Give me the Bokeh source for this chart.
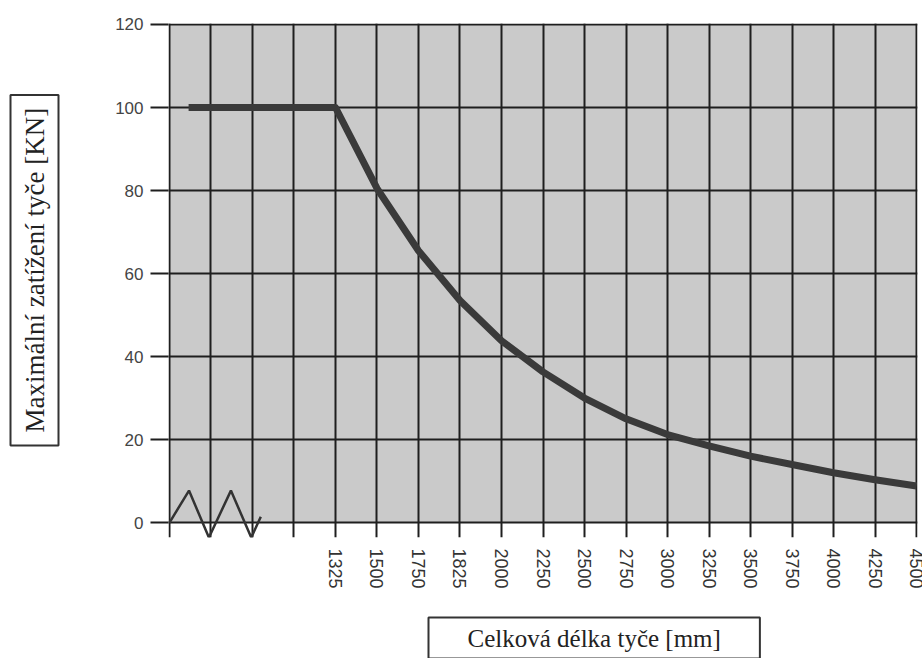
import math
from bokeh.plotting import figure
from bokeh.models import FixedTicker, BoxAnnotation, Range1d, Title
from bokeh.embed import file_html
from bokeh.resources import INLINE

# ---- data ----
tick_labels = ["1325", "1500", "1750", "1825", "2000", "2250", "2500", "2750",
               "3000", "3250", "3500", "3750", "4000", "4250", "4500"]
tick_positions = list(range(4, 19))          # labelled category slots
grid_positions = list(range(0, 19))          # all vertical grid slots
load_x = [0.46, 4, 5, 6, 7, 8, 9, 10, 11, 12, 13, 14, 15, 16, 17, 18]
load_y = [100, 100, 80.5, 65.5, 53.5, 43.8, 36.3, 30.0, 25.0, 21.2, 18.5, 16.0, 14.0, 12.0, 10.3, 8.8]
break_x = [0, 0.47, 0.95, 1.48, 1.97, 2.2]
break_y = [0, 7.7, -3.6, 7.7, -3.6, 1.4]
y_ticks = [0, 20, 40, 60, 80, 100, 120]
y_title = "Maximální zatížení tyče [KN]"
x_title = "Celková délka tyče [mm]"

p = figure(width=922, height=658, output_backend="svg", toolbar_location=None,
           x_range=Range1d(-0.024, 18.024), y_range=Range1d(-3.6, 120.24),
           min_border_left=168, min_border_right=5, min_border_top=23, min_border_bottom=121)
p.background_fill_color = "white"
p.border_fill_color = "white"
p.outline_line_color = None

bg = BoxAnnotation(left=0, right=18, bottom=0, top=120, fill_color="#cacaca",
                   fill_alpha=1.0, line_color=None, level="image")
p.add_layout(bg)

p.xgrid.ticker = FixedTicker(ticks=grid_positions)
p.ygrid.ticker = FixedTicker(ticks=y_ticks)
for g in (p.xgrid, p.ygrid):
    g.grid_line_color = "#1e1e1e"
    g.grid_line_width = 2
    g.grid_line_alpha = 1.0

# x axis
p.xaxis.ticker = FixedTicker(ticks=tick_positions)
p.xaxis.major_label_overrides = {pos: lab for pos, lab in zip(tick_positions, tick_labels)}
p.xaxis.major_label_orientation = -math.pi / 2
p.xaxis.axis_line_color = None
p.xaxis.major_tick_line_color = None
p.xaxis.minor_tick_line_color = None
p.xaxis.major_label_standoff = 5
p.xaxis.major_label_text_font = "Liberation Sans"
p.xaxis.major_label_text_font_size = "18px"
p.xaxis.major_label_text_color = "#333333"
p.xaxis.axis_label = "\u00a0"
p.xaxis.axis_label_text_font_size = "1px"
p.xaxis.axis_label_standoff = 20

# y axis
p.yaxis.ticker = FixedTicker(ticks=y_ticks)
p.yaxis.axis_line_color = None
p.yaxis.major_tick_out = 18
p.yaxis.major_tick_in = 0
p.yaxis.major_tick_line_color = "#1e1e1e"
p.yaxis.major_tick_line_width = 2
p.yaxis.minor_tick_line_color = None
p.yaxis.major_label_standoff = 7
p.yaxis.major_label_text_font = "Liberation Sans"
p.yaxis.major_label_text_font_size = "17px"
p.yaxis.major_label_text_color = "#444444"
p.yaxis.axis_label = "\u00a0"
p.yaxis.axis_label_text_font_size = "1px"
p.yaxis.axis_label_standoff = 50

# break symbol and load curve
p.line(break_x, break_y, line_color="#333333", line_width=2.5)
p.line(load_x, load_y, line_color="#3a3a3a", line_width=7, line_cap="butt", line_join="round")

# boxed axis titles
ty = Title(text=y_title, align="left", offset=92, standoff=0,
           text_font="Liberation Serif", text_font_size="27px", text_font_style="normal",
           text_color="#222222", border_line_color="#333333", border_line_width=2,
           background_fill_color="white", padding=(13, 9))
p.add_layout(ty, "left")

tx = Title(text=x_title, align="left", offset=260, standoff=0,
           text_font="Liberation Serif", text_font_size="25px", text_font_style="normal",
           text_color="#222222", border_line_color="#333333", border_line_width=2,
           background_fill_color="white", padding=(39, 7))
p.add_layout(tx, "below")

open("out.html", "w").write(file_html(p, INLINE))
